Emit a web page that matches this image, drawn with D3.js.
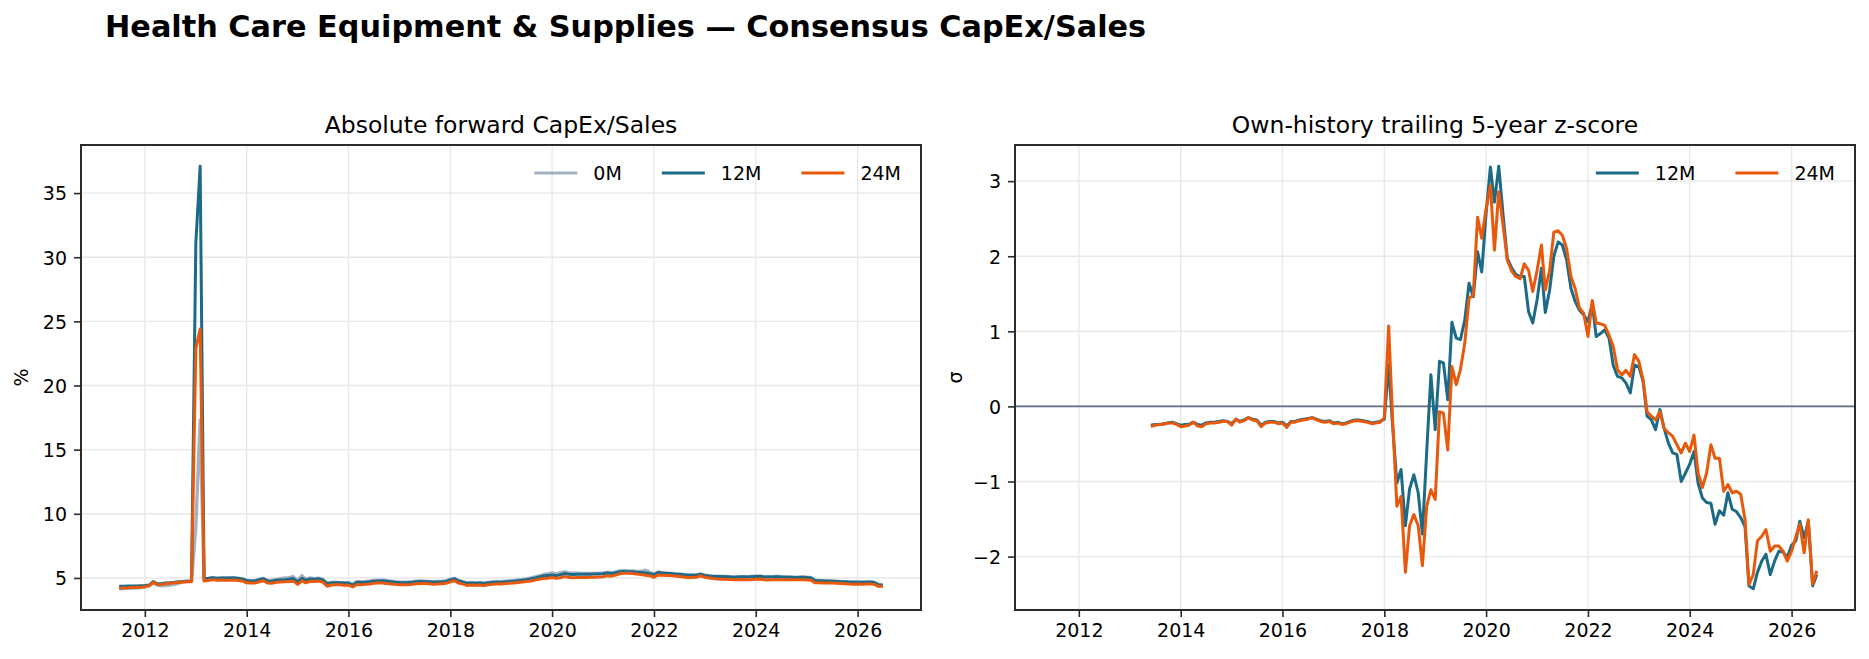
<!DOCTYPE html>
<html>
<head>
<meta charset="utf-8">
<script src="https://cdn.jsdelivr.net/npm/d3@7"></script>
<style>
  body { margin: 0; background: #fff; }
  svg { display: block; font-family: 'DejaVu Sans', sans-serif; }
</style>
</head>
<body>
<svg id="chart" width="1869" height="659"></svg>
<script>
// monthly series, first point of each array
const startAbs = new Date(2011, 6, 1)
const startZ = new Date(2013, 5, 1)

// Absolute forward CapEx/Sales, %
const abs0M = [
  4.15, 4.17, 4.2, 4.22, 4.22, 4.25, 4.3, 4.38, 4.62, 4.45, 4.38, 4.4, 4.45, 4.5, 4.6, 4.7, 4.74, 4.75, 9.0, 17.3,
  4.85, 4.9, 5.0, 4.97, 4.98, 4.98, 5.0, 5.02, 4.98, 4.92, 4.78, 4.75, 4.78, 4.88, 4.96, 4.8, 4.8, 4.88, 4.95, 5.0,
  5.02, 5.1, 4.8, 5.18, 4.9, 5.0, 4.95, 4.98, 4.88, 4.58, 4.65, 4.66, 4.64, 4.62, 4.62, 4.5, 4.7, 4.7, 4.72, 4.75,
  4.8, 4.82, 4.82, 4.78, 4.74, 4.7, 4.68, 4.66, 4.67, 4.7, 4.74, 4.76, 4.75, 4.73, 4.7, 4.72, 4.74, 4.77, 4.9, 4.96,
  4.8, 4.72, 4.62, 4.64, 4.62, 4.64, 4.6, 4.66, 4.7, 4.72,
  4.7, 4.74, 4.77, 4.8, 4.84, 4.88, 4.93, 5.0, 5.08, 5.16, 5.25, 5.32, 5.4, 5.32, 5.42, 5.48, 5.4, 5.38, 5.37, 5.36,
  5.35, 5.35, 5.36, 5.38, 5.4, 5.44, 5.4, 5.47, 5.54, 5.56, 5.55, 5.54, 5.5, 5.52, 5.6, 5.44, 5.32, 5.47, 5.42, 5.39,
  5.36, 5.33, 5.3, 5.27, 5.24, 5.24, 5.24, 5.3, 5.22, 5.17, 5.14, 5.13, 5.12, 5.11, 5.09, 5.08, 5.09, 5.1, 5.09, 5.11,
  5.13, 5.14, 5.1, 5.09, 5.1, 5.14, 5.1, 5.08, 5.07, 5.06, 5.06, 5.07, 5.05, 5.02, 4.82, 4.8, 4.78, 4.77, 4.76, 4.74,
  4.72, 4.71, 4.69, 4.68, 4.68, 4.67, 4.68, 4.69, 4.65, 4.48, 4.46
]
const abs12M = [
  4.35, 4.36, 4.37, 4.38, 4.38, 4.4, 4.42, 4.45, 4.72, 4.55, 4.57, 4.6, 4.63, 4.66, 4.7, 4.72, 4.75, 4.76, 31.1, 37.1,
  4.95, 4.97, 5.02, 4.98, 5.0, 4.99, 4.99, 5.0, 4.96, 4.92, 4.8, 4.77, 4.76, 4.86, 4.94, 4.76, 4.74, 4.82, 4.85, 4.87,
  4.9, 4.95, 4.7, 4.97, 4.8, 4.92, 4.9, 4.93, 4.85, 4.55, 4.62, 4.63, 4.62, 4.6, 4.6, 4.45, 4.66, 4.65, 4.67, 4.7,
  4.75, 4.77, 4.78, 4.74, 4.7, 4.66, 4.64, 4.63, 4.64, 4.66, 4.7, 4.72, 4.71, 4.7, 4.66, 4.68, 4.7, 4.73, 4.85, 4.93,
  4.76, 4.68, 4.58, 4.6, 4.58, 4.6, 4.57, 4.62, 4.65, 4.67,
  4.66, 4.7, 4.72, 4.75, 4.78, 4.82, 4.87, 4.93, 5.0, 5.08, 5.15, 5.2, 5.23, 5.18, 5.25, 5.34, 5.28, 5.27, 5.28, 5.28,
  5.28, 5.29, 5.3, 5.31, 5.33, 5.38, 5.34, 5.4, 5.48, 5.5, 5.49, 5.49, 5.45, 5.42, 5.38, 5.34, 5.25, 5.42, 5.38, 5.35,
  5.34, 5.3, 5.28, 5.25, 5.22, 5.22, 5.22, 5.3, 5.2, 5.15, 5.12, 5.12, 5.11, 5.1, 5.08, 5.06, 5.08, 5.09, 5.08, 5.1,
  5.12, 5.13, 5.08, 5.07, 5.08, 5.1, 5.08, 5.06, 5.05, 5.04, 5.04, 5.05, 5.03, 5.0, 4.8, 4.79, 4.77, 4.76, 4.75, 4.73,
  4.71, 4.7, 4.68, 4.67, 4.67, 4.66, 4.67, 4.68, 4.64, 4.47, 4.45
]
const abs24M = [
  4.2, 4.22, 4.23, 4.25, 4.26, 4.28, 4.32, 4.4, 4.66, 4.48, 4.5, 4.55, 4.58, 4.62, 4.65, 4.68, 4.7, 4.7, 22.9, 24.4,
  4.77, 4.8, 4.87, 4.82, 4.84, 4.83, 4.83, 4.84, 4.8, 4.76, 4.62, 4.6, 4.6, 4.7, 4.78, 4.6, 4.58, 4.66, 4.68, 4.7,
  4.72, 4.75, 4.5, 4.78, 4.62, 4.74, 4.72, 4.76, 4.68, 4.35, 4.45, 4.47, 4.47, 4.44, 4.44, 4.3, 4.5, 4.48, 4.5, 4.53,
  4.58, 4.6, 4.6, 4.57, 4.53, 4.5, 4.48, 4.47, 4.48, 4.5, 4.55, 4.57, 4.56, 4.55, 4.5, 4.52, 4.55, 4.58, 4.7, 4.78,
  4.6, 4.52, 4.42, 4.45, 4.43, 4.45, 4.42, 4.47, 4.5, 4.52,
  4.53, 4.56, 4.58, 4.61, 4.64, 4.68, 4.72, 4.77, 4.83, 4.9, 4.95, 4.98, 5.04, 4.97, 5.02, 5.12, 5.03, 5.02, 5.03, 5.03,
  5.03, 5.05, 5.06, 5.08, 5.1, 5.18, 5.14, 5.22, 5.33, 5.36, 5.36, 5.35, 5.3, 5.26, 5.22, 5.18, 5.05, 5.24, 5.22, 5.2,
  5.2, 5.15, 5.12, 5.08, 5.03, 5.04, 5.05, 5.17, 5.05, 5.0, 4.95, 4.92, 4.9, 4.9, 4.88, 4.87, 4.88, 4.87, 4.86, 4.87,
  4.9, 4.92, 4.86, 4.85, 4.87, 4.88, 4.87, 4.87, 4.87, 4.86, 4.86, 4.87, 4.85, 4.82, 4.62, 4.62, 4.61, 4.61, 4.6, 4.58,
  4.56, 4.54, 4.52, 4.51, 4.51, 4.5, 4.52, 4.53, 4.5, 4.34, 4.35
]

// Own-history trailing 5-year z-score, sigma
const z12M = [
  -0.25, -0.24, -0.24, -0.23, -0.22, -0.21, -0.23, -0.25, -0.24, -0.24,
  -0.21, -0.24, -0.25, -0.22, -0.21, -0.21, -0.2, -0.19, -0.2, -0.23,
  -0.17, -0.2, -0.18, -0.15, -0.17, -0.18, -0.25, -0.21, -0.2, -0.2,
  -0.22, -0.21, -0.26, -0.2, -0.2, -0.18, -0.17, -0.16, -0.15, -0.17,
  -0.19, -0.2, -0.19, -0.22, -0.21, -0.23, -0.22, -0.2, -0.18, -0.18,
  -0.19, -0.2, -0.22, -0.21, -0.2, -0.17,
  0.55, -0.25, -1.02, -0.84, -1.59, -1.1, -0.91, -1.15, -1.7, -0.6,
  0.42, -0.31, 0.6, 0.58, 0.09, 1.12, 0.91, 0.89, 1.15, 1.64,
  1.46, 2.06, 1.79, 2.57, 3.19, 2.72, 3.2, 2.57, 1.97, 1.85,
  1.76, 1.73, 1.73, 1.26, 1.11, 1.42, 1.84, 1.25, 1.55, 2.0,
  2.19, 2.15, 1.95, 1.57, 1.4, 1.28, 1.22, 1.13, 1.37, 0.93,
  0.97, 1.02, 0.91, 0.55, 0.4, 0.38, 0.31, 0.18, 0.55, 0.53,
  0.33, -0.13, -0.18, -0.31, -0.04, -0.29, -0.49, -0.62, -0.64, -1.0,
  -0.89, -0.77, -0.6, -1.02, -1.22, -1.28, -1.29, -1.57, -1.39, -1.45,
  -1.15, -1.37, -1.4, -1.48, -1.6, -2.39, -2.43, -2.21, -2.06, -1.97,
  -2.24, -2.06, -1.93, -1.94, -2.01, -1.85, -1.79, -1.53, -1.75, -1.53,
  -2.39, -2.24
]
const z24M = [
  -0.27, -0.25, -0.24, -0.24, -0.22, -0.22, -0.24, -0.27, -0.26, -0.25,
  -0.21, -0.26, -0.27, -0.23, -0.22, -0.22, -0.21, -0.2, -0.2, -0.25,
  -0.17, -0.21, -0.19, -0.15, -0.18, -0.19, -0.27, -0.22, -0.21, -0.21,
  -0.23, -0.22, -0.28, -0.21, -0.21, -0.19, -0.18, -0.17, -0.15, -0.18,
  -0.2, -0.21, -0.2, -0.23, -0.22, -0.24, -0.23, -0.21, -0.19, -0.19,
  -0.2, -0.21, -0.23, -0.22, -0.21, -0.15,
  1.07, -0.15, -1.33, -1.2, -2.21, -1.59, -1.44, -1.59, -2.12, -1.33,
  -1.11, -1.24, -0.07, -0.09, -0.58, 0.53, 0.29, 0.49, 0.84, 1.44,
  1.48, 2.52, 2.24, 2.63, 2.94, 2.08, 2.86, 2.43, 1.95, 1.81,
  1.73, 1.7, 1.9, 1.81, 1.53, 1.81, 2.15, 1.55, 1.81, 2.32,
  2.34, 2.28, 2.1, 1.73, 1.57, 1.31, 1.24, 0.93, 1.41, 1.11,
  1.1, 1.08, 0.95, 0.8, 0.49, 0.42, 0.48, 0.4, 0.69, 0.6,
  0.35, -0.07, -0.13, -0.18, -0.07, -0.29, -0.35, -0.4, -0.51, -0.62,
  -0.49, -0.6, -0.38, -0.89, -1.08, -0.89, -0.51, -0.69, -0.69, -1.13,
  -1.04, -1.15, -1.13, -1.17, -1.51, -2.37, -2.24, -1.79, -1.73, -1.64,
  -1.93, -1.86, -1.86, -1.93, -2.06, -1.93, -1.73, -1.57, -1.95, -1.51,
  -2.37, -2.19
]

const absTicks = [5, 10, 15, 20, 25, 30, 35]
const zTicks = [-2, -1, 0, 1, 2, 3]

const colors = { '0M': '#94a3b8', '12M': '#1c6a86', '24M': '#e8590c' }
const axisColor = '#2b2b2b'
const gridColor = '#e8e8e8'
const plotTop = 145
const plotBottom = 610
const panels = [{ left: 81, right: 921 }, { left: 1015, right: 1855 }]

const svg = d3.select('#chart')
svg.append('rect').attr('width', 1869).attr('height', 659).attr('fill', '#fff')

svg.append('text')
	.attr('x', 105).attr('y', 37)
	.style('font-size', '30.3px').style('font-weight', 'bold')
	.text('Health Care Equipment & Supplies — Consensus CapEx/Sales')

function toPoints(start, values) {
	return values.map((v, i) => ({ date: d3.timeMonth.offset(start, i), value: v }))
}

function padded(extent) {
	const pad = (extent[1] - extent[0]) * 0.05
	return [extent[0] - pad, extent[1] + pad]
}

// both panels share the x range of the absolute series
const xExtent = [startAbs, d3.timeMonth.offset(startAbs, abs12M.length - 1)]
const xPad = (xExtent[1] - xExtent[0]) * 0.05
const xDomain = [new Date(+xExtent[0] - xPad), new Date(+xExtent[1] + xPad)]

function renderPanel(panel, opts) {
	const g = svg.append('g')
	const x = d3.scaleTime().domain(xDomain).range([panel.left, panel.right])
	const allValues = opts.series.flatMap(s => s.values)
	const y = d3.scaleLinear().domain(padded(d3.extent(allValues))).range([plotBottom, plotTop])
	const xTicks = x.ticks(d3.timeYear.every(2))

	// grid
	g.append('g').selectAll('line').data(xTicks).enter().append('line')
		.attr('x1', d => x(d)).attr('x2', d => x(d)).attr('y1', plotTop).attr('y2', plotBottom)
		.attr('stroke', gridColor).attr('stroke-width', 1.4)
	g.append('g').selectAll('line').data(opts.yTicks).enter().append('line')
		.attr('x1', panel.left).attr('x2', panel.right).attr('y1', d => y(d)).attr('y2', d => y(d))
		.attr('stroke', gridColor).attr('stroke-width', 1.4)

	if (opts.zeroLine) {
		g.append('line')
			.attr('x1', panel.left).attr('x2', panel.right).attr('y1', y(0)).attr('y2', y(0))
			.attr('stroke', '#5f6f86').attr('stroke-width', 1.6)
	}

	const line = d3.line().x(d => x(d.date)).y(d => y(d.value))
	opts.series.forEach(s => {
		g.append('path').datum(toPoints(s.start, s.values))
			.attr('fill', 'none').attr('stroke', colors[s.name])
			.attr('stroke-width', s.name === '0M' ? 3.4 : 3)
			.attr('stroke-opacity', s.name === '0M' ? 0.85 : 1)
			.attr('stroke-linejoin', 'round').attr('stroke-linecap', 'butt')
			.attr('d', line)
	})

	// axes
	const xAxis = g.append('g').attr('transform', `translate(0,${plotBottom})`)
		.call(d3.axisBottom(x).tickValues(xTicks).tickFormat(d3.timeFormat('%Y')).tickSize(7).tickPadding(7))
	const yAxis = g.append('g').attr('transform', `translate(${panel.left},0)`)
		.call(d3.axisLeft(y).tickValues(opts.yTicks).tickFormat(d3.format('d')).tickSize(7).tickPadding(7))
	;[xAxis, yAxis].forEach(a => {
		a.select('.domain').remove()
		a.selectAll('.tick line').attr('stroke', axisColor).attr('stroke-width', 1.6)
		a.selectAll('.tick text').attr('fill', '#000').style('font-size', '19px')
			.style('font-family', "'DejaVu Sans', sans-serif")
	})
	yAxis.selectAll('.tick text').attr('dy', '0.36em')

	g.append('rect')
		.attr('x', panel.left).attr('y', plotTop)
		.attr('width', panel.right - panel.left).attr('height', plotBottom - plotTop)
		.attr('fill', 'none').attr('stroke', axisColor).attr('stroke-width', 2)

	g.append('text')
		.attr('x', (panel.left + panel.right) / 2).attr('y', plotTop - 12)
		.attr('text-anchor', 'middle').style('font-size', '23.5px')
		.text(opts.title)

	g.append('text')
		.attr('transform', `translate(${panel.left - 60},${(plotTop + plotBottom) / 2}) rotate(-90)`)
		.attr('text-anchor', 'middle').attr('dy', '0.35em').style('font-size', '19px')
		.text(opts.yLabel)

	renderLegend(g, opts.series.map(s => s.name), panel.right - 20, plotTop + 28)
}

function renderLegend(g, names, right, cy) {
	const handle = 43
	const gap = 16
	const colGap = 40
	const items = g.append('g')
	let cursor = right
	names.slice().reverse().forEach(name => {
		const label = items.append('text').attr('y', cy).attr('dy', '0.35em')
			.style('font-size', '19px').text(name)
		const w = label.node().getComputedTextLength()
		cursor -= w
		label.attr('x', cursor)
		items.append('line')
			.attr('x1', cursor - gap - handle).attr('x2', cursor - gap).attr('y1', cy).attr('y2', cy)
			.attr('stroke', colors[name]).attr('stroke-width', 3)
			.attr('stroke-opacity', name === '0M' ? 0.85 : 1)
		cursor -= gap + handle + colGap
	})
}

renderPanel(panels[0], {
	title: 'Absolute forward CapEx/Sales',
	yLabel: '%',
	yTicks: absTicks,
	series: [
		{ name: '0M', start: startAbs, values: abs0M },
		{ name: '12M', start: startAbs, values: abs12M },
		{ name: '24M', start: startAbs, values: abs24M }
	]
})

renderPanel(panels[1], {
	title: 'Own-history trailing 5-year z-score',
	yLabel: 'σ',
	yTicks: zTicks,
	zeroLine: true,
	series: [
		{ name: '12M', start: startZ, values: z12M },
		{ name: '24M', start: startZ, values: z24M }
	]
})
</script>
</body>
</html>
